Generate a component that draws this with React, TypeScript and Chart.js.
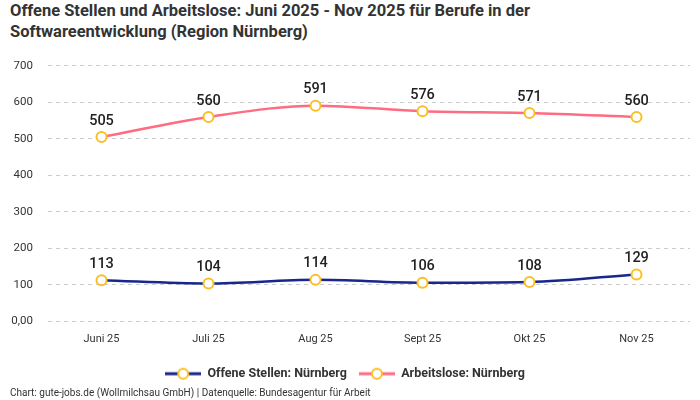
import { useEffect, useRef } from "react";
import { Chart, registerables } from "chart.js";

Chart.register(...registerables);

const months = ["Juni 25", "Juli 25", "Aug 25", "Sept 25", "Okt 25", "Nov 25"];
const offeneStellen = [113, 104, 114, 106, 108, 129];
const arbeitslose = [505, 560, 591, 576, 571, 560];
const yTicks = [0, 100, 200, 300, 400, 500, 600, 700];

const FONT = "Roboto, 'Noto Sans', sans-serif";
const NAVY = "#17278c";
const PINK = "#ff6b81";
const YELLOW = "#fbbf24";

// small image used as legend marker: line with a ring in the middle
function legendMarker(color: string) {
  const c = document.createElement("canvas");
  c.width = 36;
  c.height = 14;
  const ctx = c.getContext("2d");
  if (ctx) {
    ctx.strokeStyle = color;
    ctx.lineWidth = 3;
    ctx.beginPath();
    ctx.moveTo(0, 7);
    ctx.lineTo(36, 7);
    ctx.stroke();
    ctx.fillStyle = "#fff";
    ctx.strokeStyle = YELLOW;
    ctx.lineWidth = 2;
    ctx.beginPath();
    ctx.arc(18, 7, 5, 0, Math.PI * 2);
    ctx.fill();
    ctx.stroke();
  }
  return c;
}

const valueLabels = {
  id: "valueLabels",
  afterDatasetsDraw(chart: Chart) {
    const ctx = chart.ctx;
    ctx.save();
    ctx.font = `500 14.5px ${FONT}`;
    ctx.fillStyle = "#222";
    ctx.textAlign = "center";
    ctx.textBaseline = "middle";
    chart.data.datasets.forEach((ds, i) => {
      const meta = chart.getDatasetMeta(i);
      meta.data.forEach((pt, j) => {
        ctx.fillText(String(ds.data[j]), pt.x, pt.y - 16);
      });
    });
    ctx.restore();
  },
};

export default function App() {
  const chartRef = useRef<HTMLCanvasElement>(null);
  const chartInstance = useRef<Chart | null>(null);

  useEffect(() => {
    if (!chartRef.current) return;
    if (chartInstance.current) chartInstance.current.destroy();
    const ctx = chartRef.current.getContext("2d");
    if (!ctx) return;

    const lineStyle = {
      pointStyle: "circle" as const,
      pointRadius: 5,
      pointHoverRadius: 5,
      pointBorderWidth: 2,
      pointBackgroundColor: "#fff",
      pointBorderColor: YELLOW,
      borderWidth: 2.5,
      cubicInterpolationMode: "monotone" as const,
    };

    chartInstance.current = new Chart(ctx, {
      type: "line",
      data: {
        labels: months,
        datasets: [
          {
            label: "Offene Stellen: Nürnberg",
            data: offeneStellen,
            borderColor: NAVY,
            backgroundColor: NAVY,
            ...lineStyle,
          },
          {
            label: "Arbeitslose: Nürnberg",
            data: arbeitslose,
            borderColor: PINK,
            backgroundColor: PINK,
            ...lineStyle,
          },
        ],
      },
      options: {
        animation: false,
        responsive: true,
        maintainAspectRatio: false,
        layout: { padding: { top: 15, right: 10, left: 0, bottom: 0 } },
        plugins: {
          tooltip: { enabled: false },
          legend: {
            position: "bottom",
            labels: {
              usePointStyle: true,
              pointStyleWidth: 36,
              padding: 12,
              color: "#333",
              font: { family: FONT, size: 12.5, weight: "bold" },
              generateLabels: (chart) =>
                chart.data.datasets.map((ds, i) => ({
                  text: ds.label as string,
                  pointStyle: legendMarker(ds.borderColor as string),
                  datasetIndex: i,
                  fontColor: "#333",
                  hidden: false,
                  lineWidth: 0,
                })),
            },
          },
        },
        scales: {
          x: {
            offset: true,
            afterFit: (s: any) => {
              s.height = 34;
            },
            grid: { display: false },
            border: { display: false },
            ticks: { color: "#333", padding: 3, font: { family: FONT, size: 11 } },
          },
          y: {
            min: 0,
            max: 700,
            afterFit: (s: any) => {
              s.width = 48;
            },
            afterBuildTicks: (s: any) => {
              s.ticks = yTicks.map((v) => ({ value: v }));
            },
            grid: { color: "#cccccc", drawTicks: false },
            border: { display: false, dash: [4, 4] },
            ticks: {
              color: "#333",
              padding: 15,
              font: { family: FONT, size: 11.5 },
              callback: (v: any) => (v === 0 ? "0,00" : String(v)),
            },
          },
        },
      },
      plugins: [valueLabels],
    });

    return () => {
      if (chartInstance.current) {
        chartInstance.current.destroy();
        chartInstance.current = null;
      }
    };
  }, []);

  return (
    <div
      style={{
        position: "absolute",
        left: 0,
        top: 0,
        width: 700,
        height: 400,
        background: "#fff",
        fontFamily: FONT,
        color: "#333",
      }}
    >
      <div
        style={{
          position: "absolute",
          left: 10,
          top: 0,
          fontSize: 16.5,
          fontWeight: "bold",
          lineHeight: "21px",
        }}
      >
        Offene Stellen und Arbeitslose: Juni 2025 - Nov 2025 für Berufe in der
        <br />
        Softwareentwicklung (Region Nürnberg)
      </div>
      <div style={{ position: "absolute", left: 0, top: 44, width: 700, height: 346 }}>
        <canvas ref={chartRef}></canvas>
      </div>
      <div style={{ position: "absolute", left: 10, top: 387, fontSize: 10 }}>
        Chart: gute-jobs.de (Wollmilchsau GmbH) | Datenquelle: Bundesagentur für Arbeit
      </div>
    </div>
  );
}
